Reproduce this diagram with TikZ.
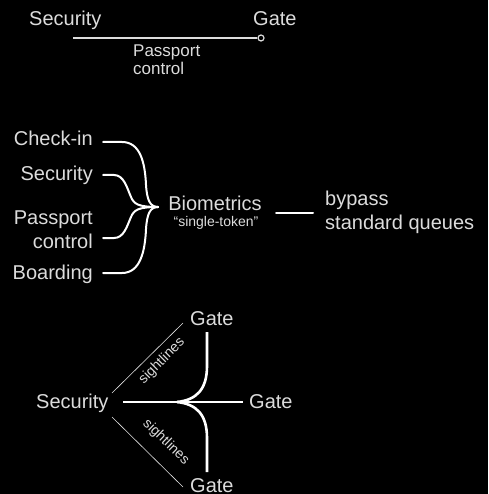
\documentclass[tikz,border=0pt]{standalone}
\usepackage{fontspec}
\setmainfont{Liberation Sans}
\definecolor{ink}{HTML}{DCDCDC}

\begin{document}
\begin{tikzpicture}[x=1pt, y=-1pt,
        lbl/.style={text=ink, inner sep=0pt, font=\fontsize{20}{24}\selectfont},
        small/.style={text=ink, inner sep=0pt, font=\fontsize{17}{18}\selectfont},
        tiny/.style={text=ink, inner sep=0pt, font=\fontsize{14}{16}\selectfont},
        fine/.style={draw=ink, line width=1.2pt},
        brace/.style={draw=white, line width=2pt, line cap=round},
        fork/.style={draw=white, line width=2.6pt},
        sight/.style={draw=ink!80, line width=0.6pt}]
        \useasboundingbox[fill=black] (0,0) rectangle (488,494);

        % Top: one line
        \node[lbl, anchor=base west] (secA) at (29, 26) {Security};
        \node[lbl, anchor=base west] (gateA) at (253, 26) {Gate};
        \node[small, anchor=base west, align=left] (passA) at (133, 75) {Passport\\control};
        \coordinate (lineA) at (73, 38);
        \node[draw=ink, line width=1.2pt, circle, inner sep=0pt, minimum size=6pt] (dotA) at (261, 38) {};
        \draw[fine] (lineA) -- (dotA);

        % Middle: brace
        \node[lbl, anchor=base east] (checkin) at (93, 146) {Check-in};
        \node[lbl, anchor=base east] (secB) at (93, 181) {Security};
        \node[lbl, anchor=base east, align=right] (passB) at (93, 248) {Passport\\control};
        \node[lbl, anchor=base east] (boarding) at (93, 279) {Boarding};
        \node[lbl, anchor=base] (bio) at (215, 210) {Biometrics};
        \node[tiny, anchor=base] (token) at (216, 226) {“single-token”};
        \node[lbl, anchor=base west, align=left] (bypass) at (325, 229) {bypass\\standard queues};
        \coordinate (tip) at (158, 207);
        \coordinate (c1) at (103, 142);
        \coordinate (c2) at (103, 175);
        \coordinate (c3) at (103, 238);
        \coordinate (c4) at (103, 273);
        \coordinate (dashL) at (276, 213);
        \coordinate (dashR) at (313, 213);

        \draw[brace] (c1) -- (122, 142) .. controls (140, 142) and (145, 162) .. (146, 185)
            .. controls (147, 200) and (150, 207) .. (tip);
        \draw[brace] (c2) -- (114, 175) .. controls (124, 175) and (127, 188) .. (131, 197)
            .. controls (134, 204) and (138, 207) .. (tip);
        \draw[brace] (c3) -- (114, 238) .. controls (124, 238) and (127, 226) .. (131, 217)
            .. controls (134, 210) and (138, 207) .. (tip);
        \draw[brace] (c4) -- (122, 273) .. controls (140, 273) and (145, 252) .. (146, 229)
            .. controls (147, 214) and (150, 207) .. (tip);
        \draw[brace] (dashL) -- (dashR);

        % Bottom: fork
        \node[lbl, anchor=base west] (secC) at (36, 408) {Security};
        \node[lbl, anchor=base west] (gateUp) at (190, 325) {Gate};
        \node[lbl, anchor=base west] (gateMid) at (249, 408) {Gate};
        \node[lbl, anchor=base west] (gateDown) at (190, 492) {Gate};
        \coordinate (forkL) at (123, 402);
        \coordinate (forkR) at (243, 402);
        \coordinate (split) at (177, 402);
        \coordinate (upEnd) at (207, 332);
        \coordinate (downEnd) at (207, 472);
        \coordinate (s0) at (112, 393);
        \coordinate (s1) at (183, 323);
        \coordinate (s2) at (112, 417);
        \coordinate (s3) at (183, 487);

        \draw[fork] (forkL) -- (forkR);
        \draw[fork] (upEnd) -- (207, 366) .. controls (207, 390) and (196, 400) .. (split);
        \draw[fork] (split) .. controls (196, 404) and (207, 414) .. (207, 438) -- (downEnd);
        \draw[sight] (s0) -- (s1);
        \draw[sight] (s2) -- (s3);
        \node[tiny, rotate=45] (sightUp) at (162, 361) {sightlines};
        \node[tiny, rotate=-44] (sightDown) at (166, 442) {sightlines};
    \end{tikzpicture}
\end{document}
